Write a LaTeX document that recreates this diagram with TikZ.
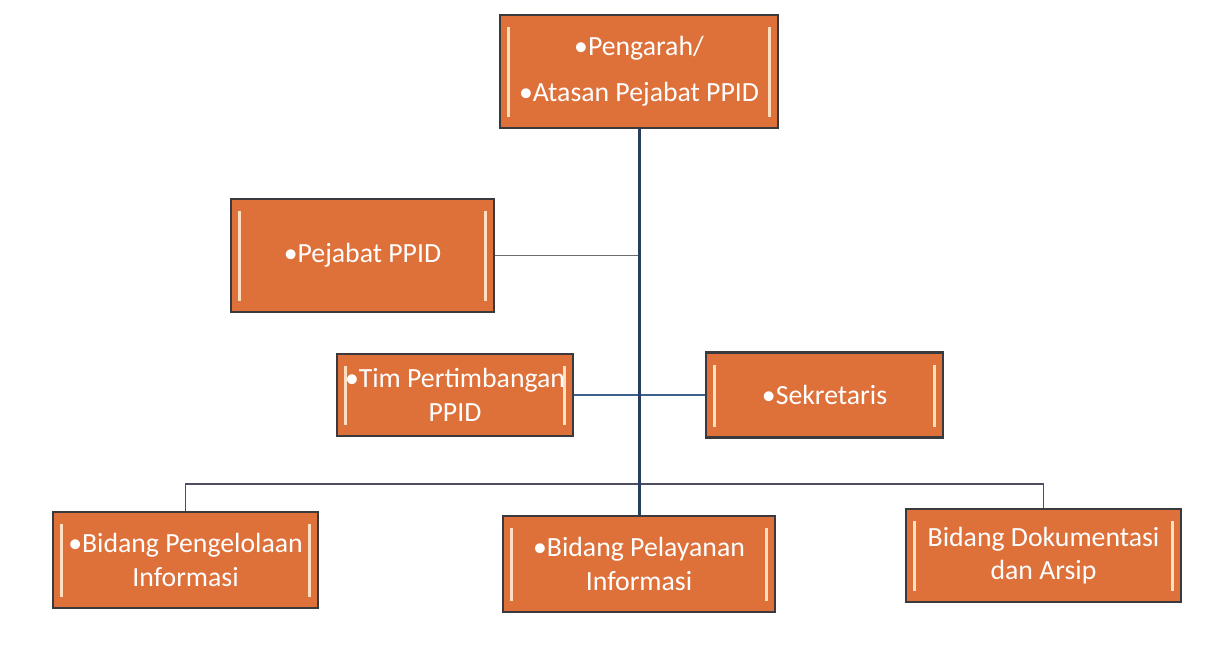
\documentclass[tikz,border=0pt]{standalone}
\usepackage{fontspec}
\newfontfamily\boxfont{Carlito}
\definecolor{boxorange}{RGB}{222,112,58}
\definecolor{boxedge}{RGB}{58,58,62}
\definecolor{trunkblue}{RGB}{40,62,96}
\definecolor{linkblue}{RGB}{62,96,140}
\definecolor{busgray}{RGB}{78,78,96}
\begin{document}
\begin{tikzpicture}[x=0.02cm,y=-0.02cm,
  unit/.style={draw=boxedge,line width=1.2pt,fill=boxorange,text=white,
    font=\boxfont\fontsize{15.8}{19}\selectfont,align=center,inner sep=0pt,
    path picture={
      \fill[orange!25!white] ([xshift=4pt,yshift=-7pt]path picture bounding box.north west)
        rectangle ([xshift=5.8pt,yshift=6pt]path picture bounding box.south west);
      \fill[orange!25!white] ([xshift=-4pt,yshift=-7pt]path picture bounding box.north east)
        rectangle ([xshift=-5.8pt,yshift=6pt]path picture bounding box.south east);}},
  trunk/.style={trunkblue,line width=1.7pt},
  branch/.style={gray!85!black,line width=0.9pt},
  link/.style={linkblue,line width=1.4pt},
  bus/.style={busgray,line width=1.1pt}]
  \useasboundingbox (0,0) rectangle (1206,658);
  \node[unit,minimum width=5.56cm,minimum height=2.26cm] (pengarah) at (639,71.5) {\textbullet Pengarah/\\[7pt]\textbullet Atasan Pejabat PPID};
  \node[unit,minimum width=5.26cm,minimum height=2.26cm] (pejabat) at (362.5,255.5) {\textbullet Pejabat PPID};
  \node[unit,minimum width=4.72cm,minimum height=1.64cm] (tim) at (455,395) {\textbullet Tim Pertimbangan\\PPID};
  \node[unit,minimum width=4.74cm,minimum height=1.70cm] (sekretaris) at (824.5,395) {\textbullet Sekretaris};
  \node[unit,minimum width=5.30cm,minimum height=1.92cm] (pengelolaan) at (185.5,560) {\textbullet Bidang Pengelolaan\\Informasi};
  \node[unit,minimum width=5.44cm,minimum height=1.92cm] (pelayanan) at (639,564) {\textbullet Bidang Pelayanan\\Informasi};
  \node[unit,minimum width=5.50cm,minimum height=1.86cm] (dokumentasi) at (1043.5,555.5) {Bidang Dokumentasi\\dan Arsip};
  % connectors
  \coordinate (bus) at (639,484);
  \draw[branch] (pejabat.east) -- (pejabat.east -| pengarah.south);
  \draw[link] (tim.east) -- (sekretaris.west);
  \draw[bus] (pengelolaan.north) |- (bus) -| (dokumentasi.north);
  \draw[trunk] (pengarah.south) -- (pelayanan.north);
\end{tikzpicture}
\end{document}
